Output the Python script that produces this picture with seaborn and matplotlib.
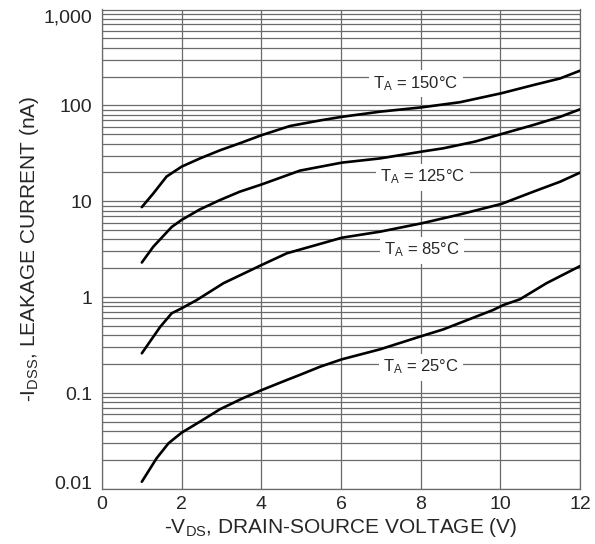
import matplotlib
matplotlib.use("Agg")
import matplotlib.pyplot as plt
import seaborn as sns
import pandas as pd
import numpy as np
from matplotlib.ticker import LogLocator, FixedLocator, FixedFormatter, NullFormatter

# ---- data ----
v_150 = [1.0, 1.29, 1.62, 2.0, 2.46, 2.96, 3.46, 4.01, 4.72, 5.5, 6.02, 6.98, 8.03, 8.99, 10.03, 10.83, 11.5, 12.0]
i_150 = [8.7, 12.1, 18.1, 23, 28, 34, 40.3, 49, 61, 70, 76, 86, 95.5, 108, 134, 163, 191, 230]

v_125 = [1.0, 1.29, 1.75, 2.0, 2.46, 2.96, 3.46, 4.01, 4.97, 6.02, 6.98, 8.03, 8.57, 9.36, 10.03, 10.83, 11.5, 12.0]
i_125 = [2.3, 3.37, 5.4, 6.4, 8.24, 10.3, 12.6, 15.0, 20.9, 25.3, 28, 33, 35.7, 41.9, 50.3, 62.5, 76, 91]

v_85 = [1.0, 1.46, 1.75, 2.0, 2.38, 3.05, 4.01, 4.64, 5.47, 6.02, 6.98, 8.03, 8.99, 10.03, 10.83, 11.5, 12.0]
i_85 = [0.26, 0.49, 0.68, 0.766, 0.935, 1.40, 2.17, 2.87, 3.59, 4.17, 4.82, 5.9, 7.3, 9.4, 12.6, 16.0, 19.9]

v_25 = [1.0, 1.37, 1.67, 2.0, 2.46, 2.96, 3.5, 4.01, 4.64, 4.97, 5.47, 6.02, 6.98, 8.03, 8.57, 9.82, 10.08, 10.49, 11.16, 12.0]
i_25 = [0.0119, 0.0209, 0.030, 0.0387, 0.0504, 0.0678, 0.087, 0.1076, 0.137, 0.155, 0.188, 0.225, 0.286, 0.394, 0.462, 0.736, 0.83, 0.95, 1.40, 2.11]

series_names = ["150", "125", "85", "25"]
label_texts = ["T$_{A}$ = 150°C", "T$_{A}$ = 125°C", "T$_{A}$ = 85°C", "T$_{A}$ = 25°C"]
label_x = [7.88, 8.06, 8.03, 8.0]
label_y = [170, 17.9, 3.1, 0.187]

x_ticks = [0, 2, 4, 6, 8, 10, 12]
x_ticklabels = ["0", "2", "4", "6", "8", "10", "12"]
y_ticks = [0.01, 0.1, 1, 10, 100, 1000]
y_ticklabels = ["0.01", "0.1", "1", "10", "100", "1,000"]

frames = []
for name, v, i in zip(series_names, [v_150, v_125, v_85, v_25], [i_150, i_125, i_85, i_25]):
    frames.append(pd.DataFrame({"V": v, "I": i, "T": name}))
df = pd.concat(frames, ignore_index=True)

# ---- style ----
sns.set_style("white")
plt.rcParams["font.family"] = ["Liberation Sans", "DejaVu Sans"]
plt.rcParams["mathtext.default"] = "regular"

fig = plt.figure(figsize=(5.95, 5.44), dpi=100)
ax = fig.add_axes([102 / 595, 55 / 544, 478 / 595, 479.5 / 544])

sns.lineplot(data=df, x="V", y="I", hue="T", palette=["black"] * 4,
             linewidth=1.9, legend=False, ax=ax, zorder=3, sort=False)

ax.set_yscale("log")
ax.set_xlim(0, 12)
ax.set_ylim(0.01, 1000)

ax.xaxis.set_major_locator(FixedLocator(x_ticks))
ax.xaxis.set_major_formatter(FixedFormatter(x_ticklabels))
ax.yaxis.set_major_locator(FixedLocator(y_ticks))
ax.yaxis.set_major_formatter(FixedFormatter(y_ticklabels))
ax.yaxis.set_minor_locator(LogLocator(base=10, subs=np.arange(2, 10)))
ax.yaxis.set_minor_formatter(NullFormatter())

gcol = "#6a6a6a"
ax.grid(True, axis="y", which="both", color=gcol, linewidth=0.9, zorder=1)
ax.grid(True, axis="x", which="major", color=gcol, linewidth=0.9, zorder=1)
ax.set_axisbelow(True)
for s in ax.spines.values():
    s.set_color(gcol)
    s.set_linewidth(0.9)

ax.tick_params(axis="both", which="both", length=0)
ax.tick_params(axis="x", labelsize=14, pad=5)
ax.tick_params(axis="y", labelsize=14, pad=7)

ylabels = ax.get_yticklabels()
ylabels[0].set_va("baseline")
ylabels[-1].set_va("top")

ax.set_xlabel("-V$_{DS}$, DRAIN-SOURCE VOLTAGE (V)", fontsize=15, labelpad=2)
ax.set_ylabel("-I$_{DSS}$, LEAKAGE CURRENT (nA)", fontsize=15, labelpad=2)

for t, lx, ly in zip(label_texts, label_x, label_y):
    ax.text(lx, ly, t, fontsize=12, ha="center", va="center", zorder=4,
            bbox=dict(facecolor="white", edgecolor="none", pad=3))

fig.savefig("out.png", dpi=100)
